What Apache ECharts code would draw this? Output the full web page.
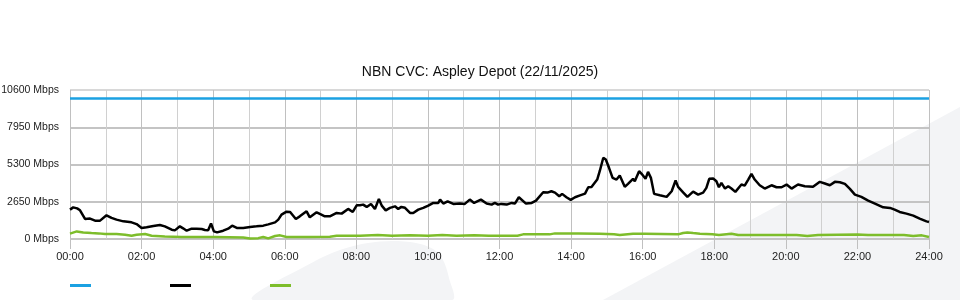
<!DOCTYPE html>
<html><head><meta charset="utf-8">
<script src="https://cdn.jsdelivr.net/npm/echarts@6/dist/echarts.min.js"></script>
<style>html,body{margin:0;padding:0;background:#fff}#c{width:960px;height:300px}</style>
</head><body><div id="c"></div>
<script>
const chartTitle = 'NBN CVC: Aspley Depot (22/11/2025)';
const yTicks = [0, 2650, 5300, 7950, 10600];
const xTickHours = [0, 2, 4, 6, 8, 10, 12, 14, 16, 18, 20, 22, 24];
const seriesNames = ['Capacity', 'Download', 'Upload'];

const capacityHours = [0, 24];
const capacityValues = [10000, 10000];

const downHours = [0.00,0.09,0.20,0.28,0.42,0.56,0.70,0.84,1.02,1.16,1.30,1.49,1.72,1.86,2.00,2.14,2.33,2.51,2.65,2.84,2.93,3.07,3.16,3.26,3.40,3.54,3.68,3.77,3.86,3.94,4.02,4.11,4.28,4.42,4.53,4.66,4.84,5.03,5.21,5.40,5.54,5.73,5.82,5.91,6.05,6.15,6.31,6.42,6.61,6.70,6.75,6.89,6.98,7.12,7.26,7.45,7.59,7.77,7.90,8.01,8.10,8.19,8.29,8.41,8.52,8.63,8.71,8.82,8.94,9.08,9.17,9.26,9.36,9.50,9.59,9.73,9.87,10.01,10.15,10.29,10.34,10.43,10.55,10.71,10.89,11.03,11.17,11.29,11.48,11.64,11.78,11.87,11.96,12.05,12.20,12.34,12.43,12.54,12.74,12.90,13.02,13.22,13.34,13.45,13.55,13.67,13.75,13.87,13.99,14.11,14.25,14.39,14.48,14.57,14.73,14.80,14.90,14.97,15.06,15.16,15.27,15.36,15.50,15.59,15.73,15.78,15.90,15.97,16.08,16.15,16.23,16.32,16.48,16.67,16.81,16.92,16.99,17.13,17.25,17.41,17.55,17.69,17.78,17.86,17.97,18.06,18.13,18.20,18.30,18.39,18.48,18.59,18.76,18.85,18.95,19.04,19.13,19.27,19.41,19.60,19.74,19.88,20.02,20.16,20.34,20.53,20.76,20.95,21.09,21.23,21.37,21.51,21.65,21.79,21.93,22.11,22.30,22.49,22.72,22.91,23.04,23.18,23.37,23.56,23.74,23.93,24.00];
const downValues = [2090,2250,2180,2040,1427,1450,1305,1305,1685,1500,1377,1256,1184,1060,785,830,927,998,900,663,615,900,760,590,735,735,710,640,615,1100,540,470,590,735,950,785,785,855,900,950,1040,1185,1377,1733,1947,1925,1427,1612,1970,1540,1540,1900,1783,1612,1612,1855,1805,2140,1925,2397,2400,2447,2282,2497,2140,2853,2375,2040,2211,2325,2140,2282,2220,1855,1855,2090,2211,2375,2568,2568,2803,2520,2683,2497,2520,2497,2803,2568,2803,2520,2447,2568,2447,2497,2447,2568,2520,2968,2518,2568,2732,3324,3300,3395,3300,3039,3210,2968,2782,2968,3100,3231,3681,3700,4230,4822,5778,5656,5064,4351,4230,4515,3709,3923,4280,4109,4822,4636,4280,4779,4351,3210,3110,2996,3395,4159,3709,3324,2996,3374,3160,3300,3638,4280,4300,4109,3681,3995,3588,3750,3588,3352,3873,3800,4230,4636,4230,3823,3588,3823,3681,3681,3873,3588,3873,3752,3709,4066,3945,3823,4066,4040,3920,3566,3160,2996,2732,2518,2254,2211,2090,1925,1805,1662,1448,1256,1212];

const upHours = [0,0.19,0.37,0.60,0.80,0.98,1.30,1.54,1.72,1.86,2.10,2.28,2.65,3.12,4.05,4.84,5.03,5.26,5.40,5.54,5.73,5.87,6.05,6.70,7.26,7.45,8.10,8.60,9.00,9.50,10.00,10.40,10.80,11.30,11.70,12.01,12.50,12.66,13.40,13.55,14.20,14.80,15.20,15.36,15.73,16.06,16.99,17.13,17.25,17.41,17.60,17.95,18.13,18.48,18.67,19.50,20.30,20.60,20.90,22.00,22.30,23.30,23.56,23.80,24.00];
const upValues = [378,540,470,428,400,357,357,307,235,307,357,235,185,143,143,114,43,60,143,43,214,260,143,143,166,235,235,285,235,260,235,285,235,260,235,235,235,330,330,400,400,380,330,280,380,380,330,428,470,428,380,330,280,380,280,280,280,214,280,320,280,280,214,260,143];

const pairs = (xs, ys) => xs.map((x, i) => [x, ys[i]]);
const pad = n => (n < 10 ? '0' : '') + n;

const chart = echarts.init(document.getElementById('c'), null, {renderer: 'canvas'});
const font = '"Liberation Sans", Arial, sans-serif';
chart.setOption({
  animation: false,
  backgroundColor: '#fff',
  textStyle: {fontFamily: font},
  title: {text: chartTitle, left: 'center', top: 60, textStyle: {fontSize: 14, fontWeight: 'normal', color: '#111', fontFamily: font}},
  graphic: [
    {type: 'polygon', z: -10, silent: true, shape: {points: [[603,300],[960,107],[960,300]]}, style: {fill: '#f3f4f6'}},
    {type: 'polygon', z: -10, silent: true, shape: {smooth: 0.3, points: [[253,300],[317,260],[343,249],[368,243],[392,241],[416,243],[433,249],[443,260],[449,278],[452,300]]}, style: {fill: '#f3f4f6'}}
  ],
  legend: {
    left: 65, top: 279, itemWidth: 21, itemHeight: 3, itemGap: 79, icon: 'rect',
    formatter: () => '', data: seriesNames, selectedMode: false,
    textStyle: {fontSize: 1}
  },
  grid: {left: 70, right: 31, top: 90, bottom: 61, containLabel: false, outerBoundsMode: 'none'},
  xAxis: {
    type: 'value', min: 0, max: 24, interval: 2,
    axisLine: {show: false},
    axisTick: {show: true, length: 10, lineStyle: {color: '#c0c0c0', width: 1}},
    axisLabel: {margin: 12, fontSize: 11, color: '#222', formatter: v => pad(v) + ':00'},
    splitLine: {show: true, lineStyle: {color: '#c0c0c0', width: 1}},
    minorTick: {show: false, splitNumber: 2},
    minorSplitLine: {show: true, lineStyle: {color: '#d0d0d0', width: 1}}
  },
  yAxis: {
    type: 'value', min: 0, max: 10600, interval: 2650,
    axisLine: {show: false}, axisTick: {show: false},
    axisLabel: {margin: 11, fontSize: 10.5, color: '#222', formatter: v => v + ' Mbps'},
    splitLine: {show: true, lineStyle: {color: ['#c4c4c4','#c4c4c4','#c4c4c4','#c4c4c4','#d8d8d8'], width: 2}}
  },
  series: [
    {name: seriesNames[0], type: 'line', data: pairs(capacityHours, capacityValues), showSymbol: false, color: '#1ba1e2', lineStyle: {width: 2.5, color: '#1ba1e2'}},
    {name: seriesNames[1], type: 'line', data: pairs(downHours, downValues), showSymbol: false, color: '#000', lineStyle: {width: 2.5, color: '#000'}},
    {name: seriesNames[2], type: 'line', data: pairs(upHours, upValues), showSymbol: false, color: '#7dbd2b', lineStyle: {width: 2.5, color: '#7dbd2b'}}
  ]
});
</script></body></html>
